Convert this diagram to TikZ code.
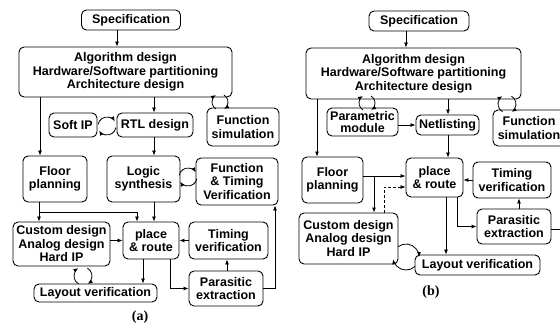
\documentclass[tikz,border=0pt]{standalone}
\usepackage{fontspec}
\setmainfont{Liberation Sans}
\newfontfamily\capfont{Liberation Serif}
\usetikzlibrary{arrows.meta}

\tikzset{
  blk/.style={draw, line width=.9pt, rounded corners=5pt, align=center, inner sep=0pt,
    fill=white, font=\fontsize{12.5}{13.5}\selectfont\bfseries},
  sz/.style 2 args={minimum width=#1pt, minimum height=#2pt},
  arr/.style={line width=.8pt, -{Latex[length=5pt,width=4pt]}},
  ln/.style={line width=.8pt}
}

\begin{document}
\begin{tikzpicture}[x=1pt,y=-1pt]
	\useasboundingbox (0,0) rectangle (560,330);
	\clip (0,0) rectangle (560,330);

	% flow (a)
	\node[blk,sz={99}{20}] (specA) at (131,20) {Specification};
	\node[blk,sz={213}{50}] (algA) at (125.5,72) {Algorithm design\\Hardware/Software partitioning\\Architecture design};
	\node[blk,sz={48}{24}] (softA) at (73,125) {Soft IP};
	\node[blk,sz={76}{24}] (rtlA) at (155,125) {RTL design};
	\node[blk,sz={72}{38}] (fsimA) at (243,127) {Function\\simulation};
	\node[blk,sz={64}{46}] (floorA) at (55,179) {Floor\\planning};
	\node[blk,sz={73}{46}] (logicA) at (143.5,179) {Logic\\synthesis};
	\node[blk,sz={82}{47}] (ftvA) at (237,181.5) {Function\\\& Timing\\Verification};
	\node[blk,sz={97}{44}] (customA) at (61.5,244) {Custom design\\Analog design\\Hard IP};
	\node[blk,sz={56}{37}] (prA) at (151,240.5) {place\\\& route};
	\node[blk,sz={79}{37}] (timA) at (228.5,240.5) {Timing\\verification};
	\node[blk,sz={74}{35}] (parA) at (226,288.5) {Parasitic\\extraction};
	\node[blk,sz={123}{18}] (layA) at (95.5,293) {Layout verification};
	\node[font=\capfont\bfseries\fontsize{14}{14}\selectfont] (capA) at (140,317) {(a)};

	\coordinate (fbrA) at (39,212);
	\draw[arr] (117,0 |- specA.south) -- (117,0 |- algA.north);
	\draw[arr] (154,0 |- algA.south) -- (154,0 |- rtlA.north);
	\draw[arr] (154,0 |- rtlA.south) -- (154,0 |- logicA.north);
	\draw[arr] (40,0 |- algA.south) -- (40,0 |- floorA.north);
	\draw[arr] (39,0 |- floorA.south) -- (39,0 |- customA.north);
	\draw[arr] (fbrA) -- (137,0 |- fbrA) -- (137,0 |- prA.north);
	\draw[arr] (154,0 |- logicA.south) -- (154,0 |- prA.north);
	\draw[arr] (customA.east |- prA.west) -- (prA.west);
	\draw[arr] (timA.west) -- (prA.east);
	\draw[arr] (143,0 |- prA.south) -- (143,0 |- layA.north);
	\draw[arr] (170,0 |- prA.south) |- (parA.west);
	\draw[arr] (227,0 |- parA.north) -- (227,0 |- timA.south);
	\draw[arr] (parA.east) -| (275,0 |- ftvA.south);

	% loops (a)
	\draw[arr] (220,102) ++(-60:8) arc[start angle=-60, end angle=60, radius=8];
	\draw[arr] (220,102) ++(120:8) arc[start angle=120, end angle=240, radius=8];
	\draw[arr] (107,126) ++(190:9) arc[start angle=190, end angle=330, radius=9];
	\draw[arr] (107,126) ++(10:9) arc[start angle=10, end angle=150, radius=9];
	\draw[arr] (188,177) ++(190:9) arc[start angle=190, end angle=330, radius=9];
	\draw[arr] (188,177) ++(10:9) arc[start angle=10, end angle=150, radius=9];
	\draw[arr] (83,276) ++(-60:9) arc[start angle=-60, end angle=60, radius=9];
	\draw[arr] (83,276) ++(120:9) arc[start angle=120, end angle=240, radius=9];

	% flow (b)
	\node[blk,sz={100}{20}] (specB) at (419,21) {Specification};
	\node[blk,sz={215}{51}] (algB) at (413.5,73.5) {Algorithm design\\Hardware/Software partitioning\\Architecture design};
	\node[blk,sz={71}{28},font=\fontsize{12.5}{12}\selectfont\bfseries] (parmB) at (362.5,122) {Parametric\\module};
	\node[blk,sz={63}{20}] (netB) at (447.5,125) {Netlisting};
	\node[blk,sz={72}{36}] (fsimB) at (529,128) {Function\\simulation};
	\node[blk,sz={61}{46}] (floorB) at (332.5,180) {Floor\\planning};
	\node[blk,sz={57}{39}] (prB) at (434.5,177.5) {place\\\& route};
	\node[blk,sz={78}{36}] (timB) at (512,180) {Timing\\verification};
	\node[blk,sz={74}{35}] (parB) at (514,226.5) {Parasitic\\extraction};
	\node[blk,sz={99}{51}] (customB) at (348.5,238.5) {Custom design\\Analog design\\Hard IP};
	\node[blk,sz={125}{20}] (layB) at (477.5,265) {Layout verification};
	\node[font=\capfont\bfseries\fontsize{14}{14}\selectfont] (capB) at (431,292) {(b)};

	\coordinate (fbrB) at (374,176);
	\coordinate (offB) at (565,229);
	\draw[arr] (406,0 |- specB.south) -- (406,0 |- algB.north);
	\draw[arr] (448,0 |- algB.south) -- (448,0 |- netB.north);
	\draw[arr] (448,0 |- netB.south) -- (448,0 |- prB.north);
	\draw[arr] (parmB.east |- netB.west) -- (netB.west);
	\draw[arr] (317,0 |- algB.south) -- (317,0 |- floorB.north);
	\draw[arr] (floorB.east |- fbrB) -- (prB.west |- fbrB);
	\draw[arr] (fbrB) -- (fbrB |- customB.north);
	\draw[arr,densely dashed] (384,0 |- customB.north) |- (prB.west |- 0,187);
	\draw[arr] (446,0 |- prB.south) -- (446,0 |- layB.north);
	\draw[arr] (457,0 |- prB.south) |- (parB.west);
	\draw[arr] (timB.west) -- (prB.east |- timB.west);
	\draw[arr] (519,0 |- parB.north) -- (519,0 |- timB.south);
	\draw[ln] (parB.east |- offB) -- (offB);

	% loops (b)
	\draw[arr] (367,103) ++(-60:8) arc[start angle=-60, end angle=60, radius=8];
	\draw[arr] (367,103) ++(120:8) arc[start angle=120, end angle=240, radius=8];
	\draw[arr] (507,104) ++(-60:9) arc[start angle=-60, end angle=60, radius=9];
	\draw[arr] (507,104) ++(120:9) arc[start angle=120, end angle=240, radius=9];
	\draw[arr] (406,257) ++(232:13) arc[start angle=232, end angle=360, radius=13];
	\draw[arr] (406,257) ++(46:13) arc[start angle=46, end angle=170, radius=13];

\end{tikzpicture}
\end{document}
